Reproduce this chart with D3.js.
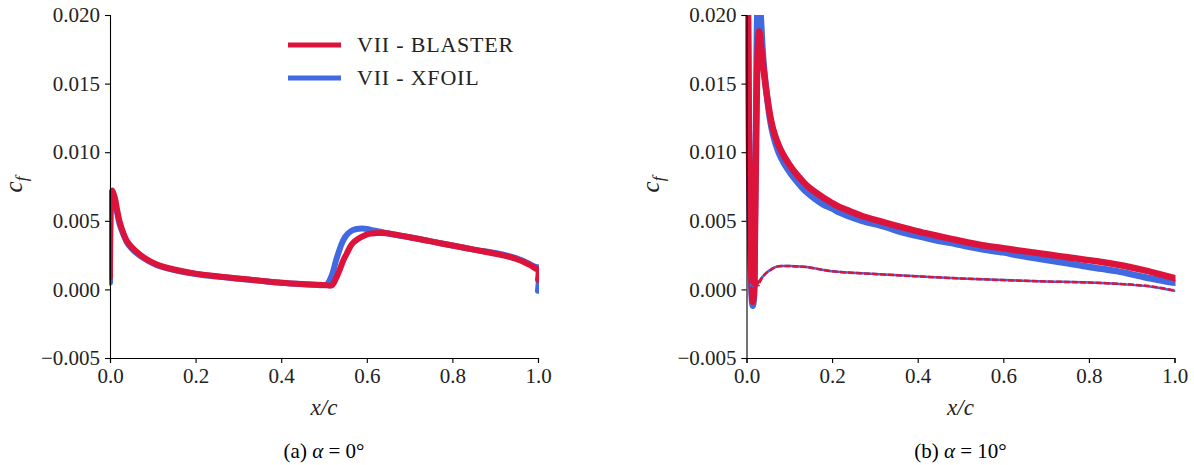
<!DOCTYPE html>
<html>
<head>
<meta charset="utf-8">
<script src="https://cdn.jsdelivr.net/npm/d3@7"></script>
</head>
<body style="margin:0">
<div id="chart"></div>
<script>
// ---- data ----
const xTicks = [0, 0.2, 0.4, 0.6, 0.8, 1.0];
const yTicks = [-0.005, 0, 0.005, 0.010, 0.015, 0.020];
const legendLabels = ["VII - BLASTER", "VII - XFOIL"];
const captions = ["(a)", "(b)"];
const alphas = ["0°", "10°"];

// alpha = 0
const a0BlasterX = [0, 0.002, 0.005, 0.008, 0.012, 0.016, 0.022, 0.03, 0.04, 0.05, 0.06, 0.08, 0.1, 0.12, 0.15, 0.2, 0.25, 0.3, 0.35, 0.4, 0.45, 0.5, 0.518, 0.528, 0.537, 0.545, 0.553, 0.561, 0.568, 0.58, 0.592, 0.605, 0.62, 0.646, 0.7, 0.75, 0.8, 0.85, 0.9, 0.93, 0.951, 0.967, 0.982, 0.993, 1.0, 1.0];
const a0BlasterCf = [0.0009, 0.0062, 0.0072, 0.0070, 0.0066, 0.0059, 0.0050, 0.0042, 0.0035, 0.0031, 0.0028, 0.0023, 0.00195, 0.0017, 0.00145, 0.00115, 0.00096, 0.0008, 0.00064, 0.00049, 0.00039, 0.00032, 0.0003, 0.0008, 0.00146, 0.0021, 0.0026, 0.0031, 0.0034, 0.0037, 0.0039, 0.00405, 0.0041, 0.0041, 0.0038, 0.0035, 0.0032, 0.0029, 0.0026, 0.0024, 0.0022, 0.002, 0.00176, 0.00155, 0.00142, 0.0007];
const a0XfoilX = [0, 0.002, 0.005, 0.008, 0.012, 0.016, 0.022, 0.03, 0.04, 0.05, 0.06, 0.08, 0.1, 0.12, 0.15, 0.2, 0.25, 0.3, 0.35, 0.4, 0.45, 0.5, 0.506, 0.518, 0.529, 0.541, 0.549, 0.557, 0.566, 0.576, 0.59, 0.6, 0.615, 0.631, 0.662, 0.7, 0.75, 0.8, 0.85, 0.9, 0.93, 0.951, 0.967, 0.982, 0.993, 1.0, 1.0];
const a0XfoilCf = [0.0005, 0.006, 0.0068, 0.0067, 0.0063, 0.0057, 0.0048, 0.0041, 0.0034, 0.003, 0.0027, 0.00225, 0.0019, 0.00165, 0.0014, 0.00112, 0.00093, 0.00078, 0.00063, 0.00048, 0.00038, 0.00031, 0.00033, 0.001, 0.0022, 0.0033, 0.0038, 0.0041, 0.0043, 0.0044, 0.00443, 0.0044, 0.0043, 0.0042, 0.004, 0.0038, 0.0035, 0.0032, 0.0029, 0.00265, 0.00245, 0.00225, 0.00205, 0.00182, 0.00165, 0.0016, -0.0001];

// alpha = 10, upper surface
const a10UpperX = [0, 0.002, 0.004, 0.006, 0.009, 0.012, 0.0145, 0.017, 0.020, 0.023, 0.026, 0.0295, 0.033, 0.039, 0.047, 0.055, 0.062, 0.075, 0.086, 0.1, 0.109, 0.125, 0.14, 0.16, 0.179, 0.2, 0.218, 0.242, 0.27, 0.32, 0.36, 0.398, 0.44, 0.476, 0.52, 0.554, 0.6, 0.631, 0.67, 0.709, 0.75, 0.787, 0.83, 0.865, 0.9, 0.928, 0.96, 0.985, 1.0];
const a10BlasterUpperCf = [0.030, 0.025, 0.018, 0.010, 0.004, 0.0005, -0.0009, -0.0004, 0.005, 0.012, 0.0172, 0.0188, 0.0180, 0.0163, 0.0143, 0.0127, 0.0117, 0.0105, 0.0098, 0.0091, 0.0087, 0.0081, 0.0076, 0.0071, 0.0067, 0.0063, 0.0060, 0.0057, 0.00535, 0.0049, 0.00455, 0.00425, 0.00395, 0.0037, 0.0034, 0.0032, 0.0030, 0.00286, 0.0027, 0.00252, 0.00235, 0.00218, 0.002, 0.00182, 0.0016, 0.0014, 0.00115, 0.00095, 0.00082];
const a10XfoilUpperCf = [0.030, 0.025, 0.017, 0.009, 0.003, -0.0004, -0.0012, -0.0007, 0.006, 0.0145, 0.0205, 0.0215, 0.020, 0.0168, 0.0143, 0.0124, 0.0113, 0.0100, 0.0093, 0.0086, 0.0082, 0.0076, 0.0071, 0.0066, 0.0062, 0.0059, 0.0056, 0.0053, 0.0050, 0.0046, 0.0042, 0.0039, 0.0036, 0.0034, 0.0031, 0.0029, 0.0027, 0.0025, 0.0023, 0.0021, 0.0019, 0.0017, 0.0015, 0.00133, 0.0011, 0.0009, 0.0007, 0.00055, 0.00049];

// alpha = 10, lower surface
const a10LowerX = [0.010, 0.013, 0.016, 0.019, 0.022, 0.025, 0.028, 0.032, 0.04, 0.05, 0.06, 0.07, 0.085, 0.1, 0.14, 0.2, 0.3, 0.4, 0.5, 0.6, 0.7, 0.8, 0.9, 0.95, 1.0];
const a10BlasterLowerCf = [0.0005, 0.0012, -0.0001, 0.0009, 0.0, 0.0007, 0.0003, 0.0006, 0.0010, 0.0013, 0.0015, 0.00165, 0.0017, 0.0017, 0.00163, 0.00132, 0.00112, 0.00095, 0.0008, 0.00068, 0.00058, 0.0005, 0.00035, 0.0002, -0.00008];
const a10XfoilLowerCf = [0.0003, 0.0004, 0.0002, 0.0003, 0.0003, 0.0004, 0.0005, 0.0007, 0.001, 0.0013, 0.0015, 0.00165, 0.0017, 0.0017, 0.00163, 0.00132, 0.00112, 0.00095, 0.0008, 0.00068, 0.00058, 0.0005, 0.00033, 0.00018, -0.0001];

const RED = "#dc143c";
const BLUE = "#4169e1";
const SERIF = "'Liberation Serif'";

const zip = (xs, ys) => xs.map((x, i) => ({ x: x, y: ys[i] }));

class CfChart {
    constructor(svg, id, left, series, caption, alpha, showLegend) {
        this.svg = svg;
        this.id = id;
        this.left = left;
        this.series = series;
        this.caption = caption;
        this.alpha = alpha;
        this.showLegend = showLegend;
        this.initVis();
    }

    initVis() {
        let vis = this;
        vis.top = 15;
        vis.width = 428;
        vis.height = 343;

        vis.g = vis.svg.append("g")
            .attr("transform", `translate(${vis.left},${vis.top})`);

        vis.xScale = d3.scaleLinear().domain([0, 1]).range([0, vis.width]);
        vis.yScale = d3.scaleLinear().domain([-0.005, 0.020]).range([vis.height, 0]);

        vis.g.append("clipPath")
            .attr("id", `clip-${vis.id}`)
            .append("rect")
            .attr("x", -1)
            .attr("y", 0)
            .attr("width", vis.width + 2)
            .attr("height", vis.height);

        vis.line = d3.line()
            .x(d => vis.xScale(d.x))
            .y(d => vis.yScale(d.y))
            .curve(d3.curveCatmullRom.alpha(0.5));

        vis.updateVis();
    }

    updateVis() {
        let vis = this;

        const lines = vis.g.append("g").attr("clip-path", `url(#clip-${vis.id})`);
        lines.selectAll("path")
            .data(vis.series)
            .join("path")
            .attr("d", d => vis.line(d.points))
            .attr("fill", "none")
            .attr("stroke", d => d.color)
            .attr("stroke-width", d => d.width)
            .attr("stroke-dasharray", d => d.dash || null)
            .attr("stroke-linejoin", "round")
            .attr("stroke-linecap", d => d.dash ? "butt" : "round");

        const xAxis = vis.g.append("g")
            .attr("transform", `translate(0,${vis.height})`)
            .call(d3.axisBottom(vis.xScale).tickValues(xTicks).tickFormat(d3.format(".1f"))
                .tickSizeOuter(0).tickSize(5).tickPadding(5));
        const yAxis = vis.g.append("g")
            .call(d3.axisLeft(vis.yScale).tickValues(yTicks).tickFormat(d3.format(".3f"))
                .tickSizeOuter(0).tickSize(5).tickPadding(5));

        [xAxis, yAxis].forEach(ax => {
            ax.attr("font-family", null).attr("font-size", null);
            ax.select(".domain").attr("stroke", "#000").attr("stroke-width", 1.1);
            ax.selectAll(".tick line").attr("stroke", "#000").attr("stroke-width", 1.1);
            ax.selectAll("text")
                .attr("font-family", SERIF)
                .attr("font-size", 21)
                .attr("fill", "#222");
        });

        // axis labels
        vis.g.append("text")
            .attr("x", vis.width / 2)
            .attr("y", vis.height + 57)
            .attr("text-anchor", "middle")
            .attr("font-family", SERIF)
            .attr("font-size", 23)
            .attr("font-style", "italic")
            .attr("fill", "#222")
            .text("x/c");

        const yl = vis.g.append("text")
            .attr("transform", `translate(-88,${vis.height / 2 - 2}) rotate(-90)`)
            .attr("text-anchor", "middle")
            .attr("font-family", SERIF)
            .attr("font-size", 25)
            .attr("font-style", "italic")
            .attr("fill", "#222");
        yl.append("tspan").text("c");
        yl.append("tspan").attr("dy", 5).attr("font-size", 17).text("f");

        // caption
        const cap = vis.g.append("text")
            .attr("x", vis.width / 2)
            .attr("y", vis.height + 100)
            .attr("text-anchor", "middle")
            .attr("font-family", SERIF)
            .attr("font-size", 21)
            .attr("fill", "#000");
        cap.append("tspan").text(vis.caption + " ");
        cap.append("tspan").attr("font-style", "italic").text("α");
        cap.append("tspan").text(" = " + vis.alpha);

        if (vis.showLegend) {
            const legend = vis.g.selectAll(".legend")
                .data(legendLabels)
                .join("g")
                .attr("class", "legend")
                .attr("transform", (d, i) => `translate(178, ${30 + i * 33})`);
            legend.append("line")
                .attr("x1", 0).attr("x2", 53)
                .attr("stroke", (d, i) => i === 0 ? RED : BLUE)
                .attr("stroke-width", 5);
            legend.append("text")
                .attr("x", 69)
                .attr("y", 7)
                .attr("font-family", SERIF)
                .attr("font-size", 22)
                .attr("letter-spacing", 0.8)
                .attr("fill", "#222")
                .text(d => d);
        }
    }
}

const svg = d3.select("#chart").append("svg")
    .attr("width", 1194)
    .attr("height", 465)
    .attr("font-family", SERIF);

new CfChart(svg, "a", 110, [
    { points: zip(a0XfoilX, a0XfoilCf), color: BLUE, width: 6 },
    { points: zip(a0BlasterX, a0BlasterCf), color: RED, width: 6 }
], captions[0], alphas[0], true);

new CfChart(svg, "b", 746.5, [
    { points: zip(a10UpperX, a10XfoilUpperCf), color: BLUE, width: 6.5 },
    { points: zip(a10UpperX, a10BlasterUpperCf), color: RED, width: 6.5 },
    { points: zip(a10LowerX, a10XfoilLowerCf), color: BLUE, width: 2.5 },
    { points: zip(a10LowerX, a10BlasterLowerCf), color: RED, width: 2.5, dash: "6,2" }
], captions[1], alphas[1], false);
</script>
</body>
</html>
